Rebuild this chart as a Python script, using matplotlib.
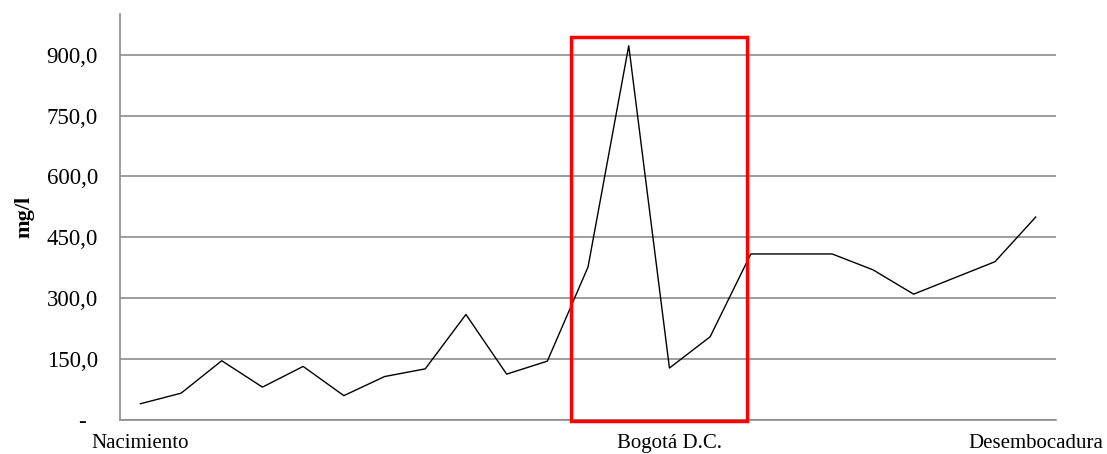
import matplotlib
matplotlib.use("Agg")
import matplotlib.pyplot as plt
from matplotlib.patches import Rectangle

# 23 sampling stations along the river, only three carry a label
labels = [""] * 23
labels[0] = "Nacimiento"
labels[13] = "Bogotá D.C."
labels[22] = "Desembocadura"

values = [40, 66, 146, 81, 132, 60, 107, 126, 260, 113, 145,
          377, 922, 128, 205, 409, 409, 409, 370, 310, 350, 390, 500]

yticks = [0, 150, 300, 450, 600, 750, 900]
ytick_labels = ["-  ", "150,0", "300,0", "450,0", "600,0", "750,0", "900,0"]

plt.rcParams["font.family"] = ["Liberation Serif", "DejaVu Serif"]

fig = plt.figure(figsize=(11.07, 4.54), dpi=100)
ax = fig.add_axes([0.1084, 0.0749, 0.8456, 0.8941])

x = list(range(len(values)))
ax.plot(x, values, color="black", linewidth=1.0, zorder=3)

ax.set_xlim(-0.5, 22.5)
ax.set_ylim(0, 1000)
ax.set_yticks(yticks)
ax.set_yticklabels(ytick_labels, fontsize=16.5)
ax.set_xticks(x)
ax.set_xticklabels(labels, fontsize=15)
ax.tick_params(axis="both", length=0)
ax.tick_params(axis="y", pad=16)
ax.tick_params(axis="x", pad=10)
ax.set_ylabel("mg/l", fontsize=16, fontweight="bold", labelpad=9)

ax.grid(axis="y", color="#8c8c8c", linewidth=1.2)
ax.set_axisbelow(True)
for side in ["top", "right"]:
    ax.spines[side].set_visible(False)
for side in ["left", "bottom"]:
    ax.spines[side].set_color("#8c8c8c")
    ax.spines[side].set_linewidth(1.2)

# highlight around Bogotá
rect = Rectangle((10.58, -3), 4.32, 947, fill=False, edgecolor="red",
                 linewidth=2.5, clip_on=False, zorder=4)
ax.add_patch(rect)

fig.savefig("out.png", dpi=100)
